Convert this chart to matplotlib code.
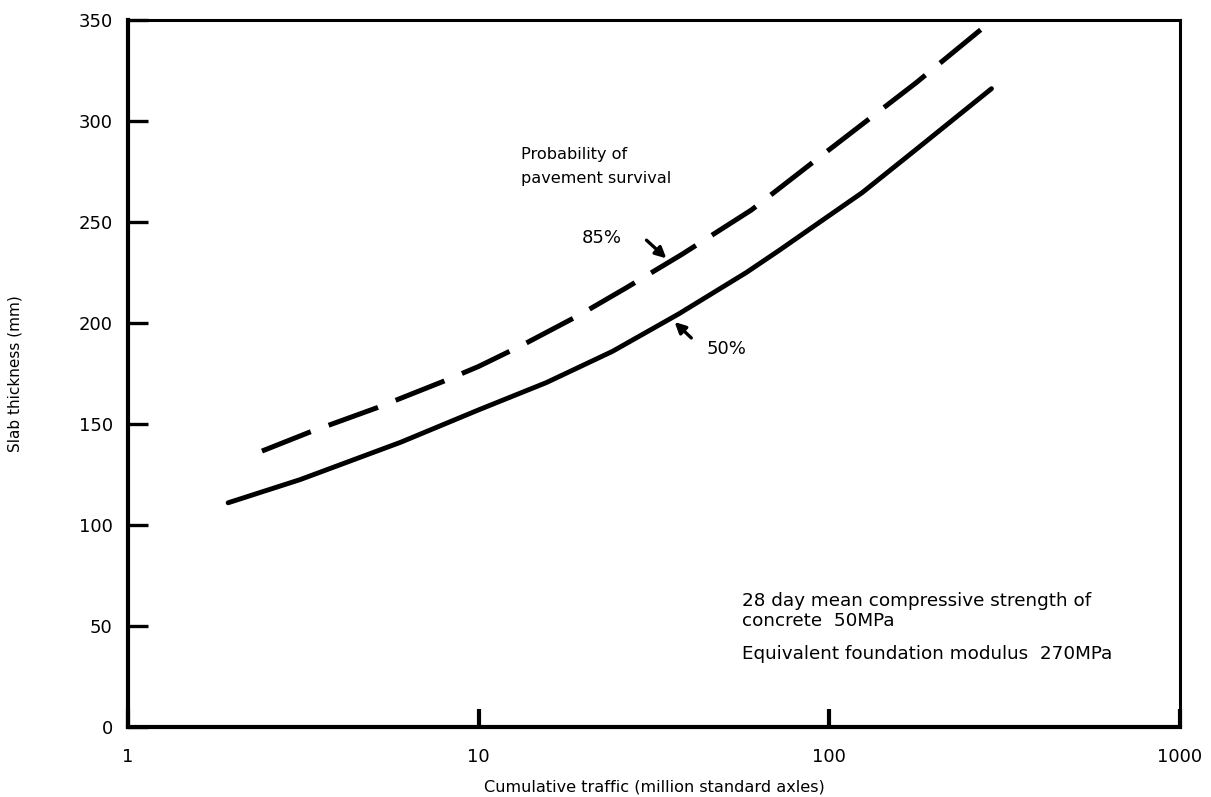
import matplotlib
matplotlib.use('Agg')
import matplotlib.pyplot as plt

# Valeurs
trafic_50 = [1.93, 3.1, 6.0, 10, 15.6, 24.1, 37.2, 58, 72, 94, 124, 180, 290]
epaisseur_50 = [111, 122.5, 141, 157, 170.5, 186, 204.5, 225, 236, 250, 264.5, 287, 316]

trafic_85 = [2.41, 3.3, 5.12, 7.9, 10, 13.3, 19.4, 26.4, 38, 60, 93.6, 177, 292]
epaisseur_85 = [136.6, 146, 158, 171, 178.5, 189, 204, 217.5, 234, 256, 282, 319, 350]

x_ticks = [1, 10, 100, 1000]
x_labels = ['1', '10', '100', '1000']
y_ticks = [0, 50, 100, 150, 200, 250, 300, 350]

plt.rcParams['font.family'] = ['DejaVu Sans']

fig = plt.figure(figsize=(12.11, 7.97), dpi=100)
ax = fig.add_axes([128/1211, 1 - 727/797, (1180 - 128)/1211, (727 - 20)/797])

ax.plot(trafic_50, epaisseur_50, c='black', lw=3.5, solid_capstyle='round', solid_joinstyle='round')
ax.plot(trafic_85, epaisseur_85, c='black', lw=3.6, dashes=(10.5, 3.8), dash_capstyle='butt')

ax.set_xscale('log')
ax.set_xlim(1, 1000)
ax.set_ylim(0, 350)
ax.set_xticks(x_ticks)
ax.set_xticklabels(x_labels)
ax.minorticks_off()
ax.set_yticks(y_ticks)

ax.tick_params(axis='x', direction='in', length=13, width=3, pad=15, labelsize=13)
ax.tick_params(axis='y', direction='in', length=14.5, width=2.4, pad=11, labelsize=13)

for side, w in [('left', 3.0), ('bottom', 3.0), ('top', 2.2), ('right', 2.2)]:
    ax.spines[side].set_linewidth(w)

ax.set_xlabel('Cumulative traffic (million standard axles)', fontsize=11.6, labelpad=10)
ax.set_ylabel('Slab thickness (mm)', fontsize=11, labelpad=40)

# Annotations
ax.text(13.2, 287, 'Probability of\npavement survival', fontsize=11.6, va='top', ha='left', linespacing=1.7)
ax.annotate('', xy=(34.3, 232), xytext=(30.1, 241),
            arrowprops=dict(arrowstyle='-|>', color='black', lw=2.4, mutation_scale=16, shrinkA=0, shrinkB=0))
ax.text(22.4, 242, '85%', fontsize=13, ha='center', va='center')
ax.annotate('', xy=(36.2, 200.5), xytext=(40.4, 192.6),
            arrowprops=dict(arrowstyle='-|>', color='black', lw=2.4, mutation_scale=16, shrinkA=0, shrinkB=0))
ax.text(50.9, 187, '50%', fontsize=13, ha='center', va='center')

ax.text(56.5, 67, '28 day mean compressive strength of\nconcrete  50MPa', fontsize=13.2,
        va='top', ha='left', linespacing=1.15)
ax.text(56.5, 40.6, 'Equivalent foundation modulus  270MPa', fontsize=13.2, va='top', ha='left')

plt.savefig('out.png', dpi=100)
